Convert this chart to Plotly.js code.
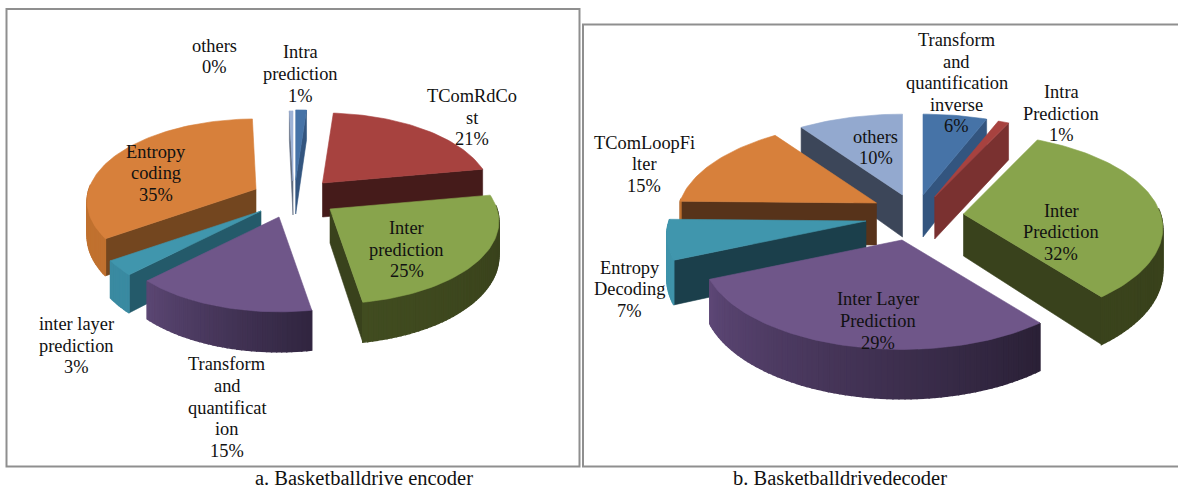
<!DOCTYPE html>
<html>
<head>
<meta charset="utf-8">
<script src="https://cdn.plot.ly/plotly-3.0.1.min.js"></script>
<style>html,body{margin:0;padding:0;background:#fff}#chart{width:1178px;height:490px}</style>
</head>
<body>
<div id="chart"></div>
<script>
// ---- data: encoder (a) ----
var encoderNames = ['Intra|prediction', 'TComRdCo|st', 'Inter|prediction', 'Transform|and|quantificat|ion', 'inter layer|prediction', 'Entropy|coding', 'others'];
var encoderValues = [1.2, 21.2, 25.4, 15.3, 3, 34.5, 0.4];
// ---- data: decoder (b) ----
var decoderNames = ['Transform|and|quantification|inverse', 'Intra|Prediction', 'Inter|Prediction', 'Inter Layer|Prediction', 'Entropy|Decoding', 'TComLoopFi|lter', 'others'];
var decoderValues = [6, 1, 32.4, 29.1, 6.8, 14.9, 9.8];
var captions = ['a. Basketballdrive encoder', 'b. Basketballdrivedecoder'];

// ---- styles ----
var encoderStyle = {
  top:    ['#4673a7', '#a7423f', '#88a44c', '#6f5689', '#4096ad', '#d7803b', '#9db2d6'],
  radial: ['#33557f', '#451b1a', '#39421c', '#3a2d4a', '#245a6a', '#73461f', '#5f6b80'],
  wallA:  ['#33557f', '#451b1a', '#414c20', '#5b4673', '#3a8aa1', '#c0712f', '#5f6b80'],
  wallB:  ['#33557f', '#451b1a', '#363e1a', '#30253f', '#3a8aa1', '#c0712f', '#5f6b80']
};
var decoderStyle = {
  top:    ['#4673a7', '#a7423f', '#88a44c', '#6f5689', '#4096ad', '#d7803b', '#93a9cf'],
  radial: ['#33557f', '#7a3130', '#39421c', '#3a2d4a', '#1b3f4b', '#57331a', '#3c4659'],
  wallA:  ['#33557f', '#7a3130', '#3a431c', '#5d4776', '#3f93aa', '#c0712f', '#3c4659'],
  wallB:  ['#33557f', '#7a3130', '#363e1a', '#2a2036', '#3f93aa', '#c0712f', '#3c4659']
};

// ---- pie geometry: per-slice explosion, in layout units ----
var encoderPie = {cx: 292, cy: 200, rx: 167, ry: 80.6, k: 0.15, depth: 34,
  pullX: [3.7, 30.5, 38, -13, -31, -36, 1], pullY: [-20, -17, 9, 17, 11, -11, -19]};
var decoderPie = {cx: 905, cy: 215, rx: 197, ry: 93, k: 0.15, depth: 42,
  pullX: [18, 29.7, 58.5, -3, -39, -28.5, -2.5], pullY: [-20, -18, -1, 25, 6, -12, -20]};

// ---- label anchors (centre x, first-line y) ----
var encoderLabelX = [300.7, 472, 406.5, 227, 76.8, 155.8, 214];
var encoderLabelY = [52.3, 96, 228, 364.3, 324, 151.7, 45.7];
var decoderLabelX = [956.8, 1061.3, 1061.3, 877.5, 629.6, 644, 875.6];
var decoderLabelY = [40, 92, 210.7, 299.3, 267.7, 142.7, 136.7];
var captionX = [363.5, 839.5];
var captionY = 478.2;
var linePitch = 21.6;
var labelFont = {family: '"Liberation Serif", serif', size: 18.4, color: '#111'};
var captionFont = {family: '"Liberation Serif", serif', size: 20.5, color: '#111'};
var frameColor = '#8f8f8f';

var traces = [];
var annotations = [];

function hexMix(a, b, t) {
  var pa = parseInt(a.slice(1), 16), pb = parseInt(b.slice(1), 16);
  var r = Math.round((pa >> 16) * (1 - t) + (pb >> 16) * t);
  var g = Math.round(((pa >> 8) & 255) * (1 - t) + ((pb >> 8) & 255) * t);
  var bl = Math.round((pa & 255) * (1 - t) + (pb & 255) * t);
  return 'rgb(' + r + ',' + g + ',' + bl + ')';
}

function poly(xs, ys, color, lw) {
  traces.push({
    type: 'scatter', mode: 'lines', x: xs, y: ys, fill: 'toself', fillcolor: color,
    line: {color: color, width: lw}, hoverinfo: 'skip', showlegend: false
  });
}

function drawPie(values, pie, style) {
  var total = values.reduce(function (a, b) { return a + b; }, 0);
  var cum = 0;
  var slices = values.map(function (v, i) {
    var a0 = cum / total * 2 * Math.PI;
    cum += v;
    var a1 = cum / total * 2 * Math.PI;
    return {i: i, a0: a0, a1: a1, mid: Math.cos((a0 + a1) / 2)};
  });
  // paint back to front
  slices.sort(function (p, q) { return q.mid - p.mid; });
  slices.forEach(function (s) {
    var ox = pie.cx + pie.pullX[s.i], oy = pie.cy + pie.pullY[s.i];
    function pt(a) {
      var c = Math.cos(a), w = 1 + pie.k * c;
      return {x: ox + pie.rx * Math.sin(a) / w, y: oy - pie.ry * c / w, d: pie.depth / w};
    }
    // radial walls that face the viewer
    [[s.a0, Math.sin(s.a0) < -1e-6], [s.a1, Math.sin(s.a1) > 1e-6]].forEach(function (e) {
      if (!e[1]) return;
      var p = pt(e[0]);
      poly([ox, p.x, p.x, ox, ox], [oy, p.y, p.y + p.d, oy + pie.depth, oy], style.radial[s.i], 0.6);
    });
    // outer wall strips, shaded along the arc, painted left to right so each overlaps the last
    var step = 1.5 * Math.PI / 180;
    var n = Math.max(1, Math.ceil((s.a1 - s.a0) / step));
    for (var j = 0; j < n; j++) {
      var b0 = s.a0 + (s.a1 - s.a0) * j / n, b1 = s.a0 + (s.a1 - s.a0) * (j + 1) / n;
      if (Math.cos((b0 + b1) / 2) > 0.05) continue;
      var p0 = pt(b0), p1 = pt(b1);
      poly([p0.x, p1.x, p1.x, p0.x, p0.x], [p0.y, p1.y, p1.y + p1.d, p0.y + p0.d, p0.y],
        hexMix(style.wallB[s.i], style.wallA[s.i], (j + 0.5) / n), 1.4);
    }
    // top face
    var xs = [ox], ys = [oy], m = Math.max(2, Math.ceil((s.a1 - s.a0) / (Math.PI / 120)));
    for (var t = 0; t <= m; t++) {
      var p = pt(s.a0 + (s.a1 - s.a0) * t / m);
      xs.push(p.x); ys.push(p.y);
    }
    xs.push(ox); ys.push(oy);
    poly(xs, ys, style.top[s.i], 0.6);
  });
}

function addLabels(names, values, lx, ly) {
  names.forEach(function (name, i) {
    var lines = name.split('|').concat([Math.round(values[i]) + '%']);
    lines.forEach(function (line, j) {
      annotations.push({
        x: lx[i], y: ly[i] + j * linePitch, xref: 'x', yref: 'y', text: line, showarrow: false,
        xanchor: 'center', yanchor: 'middle', font: labelFont
      });
    });
  });
}

drawPie(encoderValues, encoderPie, encoderStyle);
drawPie(decoderValues, decoderPie, decoderStyle);
addLabels(encoderNames, encoderValues, encoderLabelX, encoderLabelY);
addLabels(decoderNames, decoderValues, decoderLabelX, decoderLabelY);
captions.forEach(function (c, i) {
  annotations.push({x: captionX[i], y: captionY, xref: 'x', yref: 'y', text: c, showarrow: false,
    xanchor: 'center', yanchor: 'middle', font: captionFont});
});

var hidden = {visible: false, fixedrange: true};
Plotly.newPlot('chart', traces, {
  width: 1178, height: 490,
  margin: {l: 0, r: 0, t: 0, b: 0},
  paper_bgcolor: '#fff', plot_bgcolor: '#fff',
  xaxis: Object.assign({range: [0, 1178]}, hidden),
  yaxis: Object.assign({range: [490, 0]}, hidden),
  showlegend: false,
  annotations: annotations,
  shapes: [
    {type: 'rect', xref: 'x', yref: 'y', x0: 6.5, x1: 579.5, y0: 9, y1: 466.5, line: {color: frameColor, width: 2}},
    {type: 'rect', xref: 'x', yref: 'y', x0: 583, x1: 1185, y0: 24.5, y1: 466.5, line: {color: frameColor, width: 2}}
  ]
}, {staticPlot: true, displayModeBar: false});
</script>
</body>
</html>
